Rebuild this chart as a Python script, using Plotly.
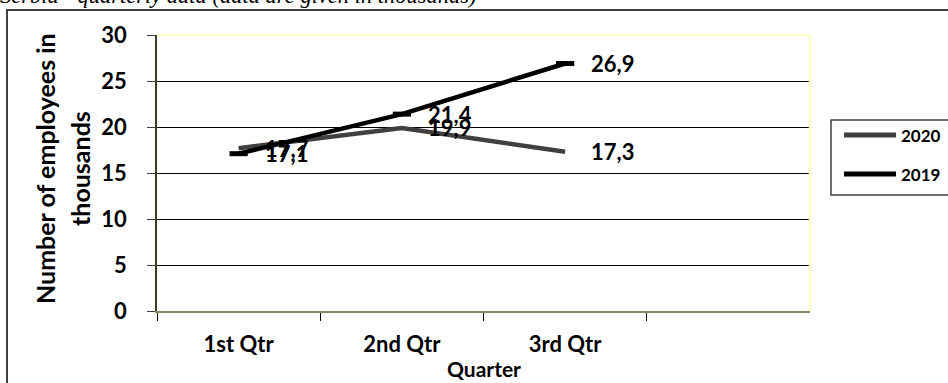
import plotly.graph_objects as go

# Quarterly employee counts (thousands)
quarters = ["1st Qtr", "2nd Qtr", "3rd Qtr"]
series_names = ["2020", "2019"]
values_2020 = [17.7, 19.9, 17.3]
values_2019 = [17.1, 21.4, 26.9]
series_values = [values_2020, values_2019]
series_colors = ["#404040", "#000000"]
y_ticks = [0, 5, 10, 15, 20, 25, 30]

W, H = 948, 383
L, R, T, B = 157, 810, 35, 311  # plot area in pixels
pw, ph = R - L, B - T


def px_x(v):
    return (v - L) / pw


def px_y(v):
    return (B - v) / ph


LABEL_FONT = "Lato"
x_pos = [i + 1 for i in range(len(quarters))]

fig = go.Figure()
for name, vals, col in zip(series_names, series_values, series_colors):
    fig.add_trace(go.Scatter(
        x=x_pos, y=vals, name=name, mode="lines",
        line=dict(color=col, width=4.5),
        showlegend=False, hoverinfo="skip",
    ))
# short dash markers on the 2019 series
fig.add_trace(go.Scatter(
    x=x_pos, y=values_2019, mode="markers",
    marker=dict(symbol="line-ew", size=13, line=dict(color="#000000", width=5)),
    showlegend=False, hoverinfo="skip",
))

annotations = []
# value labels
for vals in series_values:
    for xi, v in zip(x_pos, vals):
        annotations.append(dict(
            x=xi, y=v, xref="x", yref="y", text=f"<b>{v:.1f}</b>".replace(".", ","),
            showarrow=False, xanchor="left", yanchor="middle", xshift=24,
            font=dict(family=LABEL_FONT, size=22, color="#000000"),
        ))

# title (runs off the top edge)
annotations.append(dict(
    x=px_x(-2), y=px_y(-5), xref="paper", yref="paper",
    text="<i>Serbia - quarterly data (data are given in thousands)</i>",
    showarrow=False, xanchor="left", yanchor="middle",
    font=dict(family="Liberation Serif", size=22.5, color="#000000"),
))

# y axis title, two lines
annotations.append(dict(
    x=px_x(45), y=px_y(169), xref="paper", yref="paper",
    text="<b>Number of employees in</b>", textangle=-90, showarrow=False,
    xanchor="center", yanchor="middle",
    font=dict(family=LABEL_FONT, size=25, color="#000000"),
))
annotations.append(dict(
    x=px_x(80), y=px_y(169), xref="paper", yref="paper",
    text="<b>thousands</b>", textangle=-90, showarrow=False,
    xanchor="center", yanchor="middle",
    font=dict(family=LABEL_FONT, size=25, color="#000000"),
))

# x axis title
annotations.append(dict(
    x=px_x(484), y=px_y(368), xref="paper", yref="paper",
    text="<b>Quarter</b>", showarrow=False, xanchor="center", yanchor="middle",
    font=dict(family=LABEL_FONT, size=21, color="#000000"),
))

shapes = [
    # outer chart frame
    dict(type="rect", xref="paper", yref="paper",
         x0=px_x(7), x1=px_x(960), y0=px_y(10), y1=px_y(400),
         line=dict(color="#404040", width=2), layer="below"),
    # plot area border top and right
    dict(type="line", xref="paper", yref="paper", x0=0, x1=1, y0=1, y1=1,
         line=dict(color="#ffffc8", width=2.5), layer="above"),
    dict(type="line", xref="paper", yref="paper", x0=1, x1=1, y0=0, y1=1,
         line=dict(color="#ffffc8", width=2.5), layer="above"),
]

# legend box and entries
leg_x0, leg_x1, leg_y0, leg_y1 = 831, 960, 120, 195
shapes.append(dict(type="rect", xref="paper", yref="paper",
                   x0=px_x(leg_x0), x1=px_x(leg_x1), y0=px_y(leg_y0), y1=px_y(leg_y1),
                   line=dict(color="#404040", width=1.5), fillcolor="#ffffff"))
for name, col, ly in zip(series_names, series_colors, [135, 174]):
    shapes.append(dict(type="line", xref="paper", yref="paper",
                       x0=px_x(844), x1=px_x(896), y0=px_y(ly), y1=px_y(ly),
                       line=dict(color=col, width=5)))
    annotations.append(dict(
        x=px_x(899), y=px_y(ly), xref="paper", yref="paper", text=f"<b>{name}</b>",
        showarrow=False, xanchor="left", yanchor="middle",
        font=dict(family=LABEL_FONT, size=17, color="#000000"),
    ))

fig.update_layout(
    width=W, height=H,
    margin=dict(l=L, r=W - R, t=T, b=H - B, pad=0),
    paper_bgcolor="#ffffff", plot_bgcolor="#ffffff",
    showlegend=False,
    annotations=annotations, shapes=shapes,
    font=dict(family=LABEL_FONT, color="#000000"),
)
fig.update_xaxes(
    range=[0.5, 4.5], tickvals=x_pos, ticktext=[f"<b>{q}</b>" for q in quarters],
    ticks="", showgrid=False, zeroline=False,
    showline=True, linecolor="#8a8a60", linewidth=2,
    tickfont=dict(family=LABEL_FONT, size=22, color="#000000"),
    ticklabelstandoff=13,
    minor=dict(tickvals=[0.5, 1.5, 2.5, 3.5], ticks="outside", ticklen=8,
               tickcolor="#000000", tickwidth=1, showgrid=False),
)
fig.update_yaxes(
    range=[0, 30], tickvals=y_ticks, ticktext=[f"<b>{t}</b>" for t in y_ticks],
    ticks="outside", ticklen=8, tickcolor="#404040", tickwidth=1,
    showgrid=True, gridcolor="#000000", gridwidth=1, zeroline=False,
    showline=True, linecolor="#3c3c20", linewidth=1.5,
    tickfont=dict(family=LABEL_FONT, size=22, color="#000000"),
    ticklabelstandoff=16,
)

fig.write_html("out.html")
